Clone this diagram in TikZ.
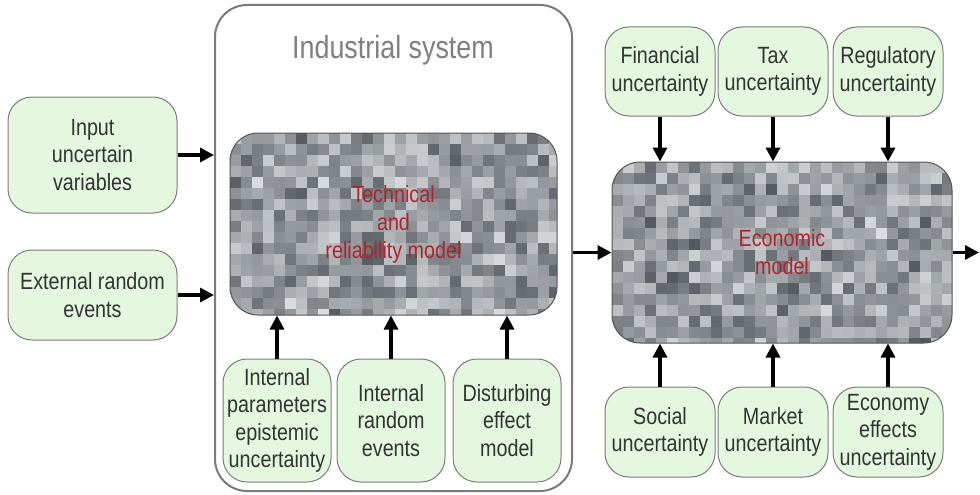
\documentclass[tikz,border=0pt]{standalone}
\usepackage{fontspec}
\setmainfont{Liberation Sans}[FakeStretch=0.84]
\usetikzlibrary{arrows.meta,calc}
\definecolor{boxfill}{HTML}{E3F8DF}
\definecolor{boxedge}{HTML}{7D7D7D}
\definecolor{txt}{HTML}{333333}
\definecolor{indedge}{HTML}{7A7A7A}
\definecolor{indtitle}{HTML}{7F7F7F}
\definecolor{modred}{HTML}{B3232B}
\definecolor{texdark}{HTML}{50565C}
\definecolor{texlight}{HTML}{DDE0E2}
\definecolor{texmid}{HTML}{8D9196}
\definecolor{texedge}{HTML}{555555}
\newcommand\texfill[4]{%
  \begin{scope}
  \clip[rounded corners=28pt] (#1,#2) rectangle (#3,#4);
  \fill[texmid] (#1,#2) rectangle (#3,#4);
  \pgfmathtruncatemacro\nx{(#3-#1)/11}
  \pgfmathtruncatemacro\ny{(#4-#2)/11}
  \foreach \i in {0,...,\nx}{\foreach \j in {0,...,\ny}{
    \pgfmathtruncatemacro\g{(random(0,100)+random(0,100))/2}
    \fill[texdark!\g!texlight, sharp corners] (#1+\i*11,#2+\j*11) rectangle ++(11.5,11.5);
  }}
  \end{scope}}
\begin{document}
\begin{tikzpicture}[x=1pt,y=-1pt,
  ubox/.style={draw=boxedge, line width=1pt, fill=boxfill, rounded corners=24pt,
    align=center, text=txt, font=\fontsize{23.5}{27.5}\selectfont, inner sep=0pt},
  texbox/.style={draw=texedge, line width=1pt, rounded corners=28pt, align=center,
    text=modred, font=\fontsize{23.5}{28}\selectfont, inner sep=0pt},
  arr/.style={line width=3.2pt, -{Triangle[length=14pt,width=14pt]}}
]
\pgfmathsetseed{7}
\useasboundingbox (0,0) rectangle (980,495);

% industrial system frame
\node[draw=indedge, line width=2pt, rounded corners=32pt, minimum width=357pt,
  minimum height=486pt, inner sep=0pt] (ind) at (393.5,248) {};
\node[text=indtitle, font=\fontsize{32}{36}\selectfont, inner sep=0pt] (indt) at (393,50) {Industrial system};

% left inputs
\node[ubox, minimum width=169pt, minimum height=116pt] (inp) at (92.5,155) {Input\\uncertain\\variables};
\node[ubox, minimum width=169pt, minimum height=90pt] (ext) at (92.5,295) {External random\\events};

% technical model
\texfill{230}{133}{557}{315}
\node[texbox, minimum width=327pt, minimum height=182pt] (tech) at (393.5,224) {Technical\\and\\reliability model};

% internal boxes
\node[ubox, minimum width=108pt, minimum height=123pt] (ip) at (277,420.5) {Internal\\parameters\\epistemic\\uncertainty};
\node[ubox, minimum width=108pt, minimum height=123pt] (ir) at (391,420.5) {Internal\\random\\events};
\node[ubox, minimum width=108pt, minimum height=123pt] (de) at (507,420.5) {Disturbing\\effect\\model};

% economic model
\texfill{612}{162}{952}{343}
\node[texbox, minimum width=340pt, minimum height=181pt] (econ) at (782,252.5) {Economic\\model};

% top right
\node[ubox, minimum width=110pt, minimum height=89pt] (fin) at (660,71.5) {Financial\\uncertainty};
\node[ubox, minimum width=110pt, minimum height=89pt] (tax) at (773,71.5) {Tax\\uncertainty};
\node[ubox, minimum width=110pt, minimum height=89pt] (reg) at (888,71.5) {Regulatory\\uncertainty};

% bottom right
\node[ubox, minimum width=110pt, minimum height=90pt] (soc) at (660,432) {Social\\uncertainty};
\node[ubox, minimum width=110pt, minimum height=90pt] (mkt) at (773,432) {Market\\uncertainty};
\node[ubox, minimum width=110pt, minimum height=90pt] (eco) at (888,432) {Economy\\effects\\uncertainty};

\coordinate (out) at (979,252.5);

% arrows
\draw[arr] (inp.east) -- (inp.east -| ind.west);
\draw[arr] (ext.east) -- (ext.east -| ind.west);
\draw[arr] (ip.north) -- (ip.north |- tech.south);
\draw[arr] (ir.north) -- (ir.north |- tech.south);
\draw[arr] (de.north) -- (de.north |- tech.south);
\draw[arr] (econ.west -| ind.east) -- (econ.west);
\draw[arr] (econ.east) -- (out);
\draw[arr] (fin.south) -- (fin.south |- econ.north);
\draw[arr] (tax.south) -- (tax.south |- econ.north);
\draw[arr] (reg.south) -- (reg.south |- econ.north);
\draw[arr] (soc.north) -- (soc.north |- econ.south);
\draw[arr] (mkt.north) -- (mkt.north |- econ.south);
\draw[arr] (eco.north) -- (eco.north |- econ.south);
\end{tikzpicture}
\end{document}
